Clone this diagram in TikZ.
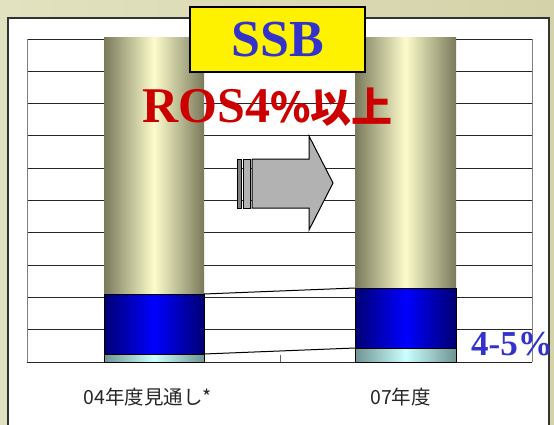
\documentclass[tikz,border=0pt]{standalone}
\usepackage{fontspec}
\setmainfont{Liberation Serif}
\newfontfamily\jpfont{Noto Sans CJK JP}
\usetikzlibrary{positioning}
\definecolor{bgleft}{HTML}{E3E2C0}
\definecolor{bgright}{HTML}{D3D2A8}
\definecolor{khakidark}{HTML}{7A7A5C}
\definecolor{khakilight}{HTML}{FCFCCB}
\definecolor{ssbblue}{HTML}{3333CC}
\definecolor{rosred}{HTML}{CC0000}
\definecolor{cyandark}{HTML}{6E9494}
\definecolor{cyanlight}{HTML}{CCFFFF}
\tikzstyle{grid line} = [draw=black!85, line width=0.9pt]
\tikzstyle{seg} = [draw=black, line width=1pt]
\tikzstyle{category} = [font={\jpfont\fontsize{19.5pt}{22pt}\selectfont}, text=black!85]
\tikzstyle{arrowpart} = [draw=black, line width=1pt]

\begin{document}
\begin{tikzpicture}[x=1pt, y=-1pt]
    \useasboundingbox (0,0) rectangle (554,425);
    \clip (0,0) rectangle (554,425);
    \shade[left color=bgleft, right color=bgright] (0,0) rectangle (554,425);
    \draw[fill=white, draw=black!80, line width=1.5pt] (8,18) rectangle (549,440);

    % plot frame
    \foreach \i in {0,...,10}
        \draw[grid line] (27,39+32.3*\i) -- (532,39+32.3*\i);
    \draw[draw=black!50, line width=0.8pt] (27,39) -- (27,362);
    \draw[draw=black!50, line width=0.8pt] (532,39) -- (532,362);
    \draw[draw=black!60, line width=0.8pt] (280,355) -- (280,362);

    % 04 bar
    \shade[left color=khakidark, right color=khakidark, middle color=khakilight] (104,38) rectangle (204,294);
    \shade[seg, left color=blue!45!black, right color=blue!45!black, middle color=blue] (104,294) rectangle (204,354);
    \shade[seg, left color=cyandark, right color=cyandark, middle color=cyanlight] (104,354) rectangle (204,362);
    \coordinate (a1) at (204,294);
    \coordinate (a2) at (204,354);

    % 07 bar
    \shade[left color=khakidark, right color=khakidark, middle color=khakilight] (355,38) rectangle (456,288);
    \shade[seg, left color=blue!45!black, right color=blue!45!black, middle color=blue] (355,288) rectangle (456,348);
    \shade[seg, left color=cyandark, right color=cyandark, middle color=cyanlight] (355,348) rectangle (456,362);
    \coordinate (b1) at (355,288);
    \coordinate (b2) at (355,348);

    \draw[seg] (a1) -- (b1);
    \draw[seg] (a2) -- (b2);

    % arrow
    \draw[arrowpart, fill=black!50] (237,159) rectangle (241,208);
    \draw[arrowpart, fill=black!30] (243,159) rectangle (250,208);
    \draw[arrowpart, fill=black!30] (252,159) -- (309,159) -- (309,136) -- (333,183)
        -- (309,230) -- (309,208) -- (252,208) -- cycle;

    \node (ssb) [rectangle, fill=yellow, draw=black, line width=1.5pt, minimum width=175pt, minimum height=65pt,
        text=ssbblue, font={\bfseries\fontsize{52pt}{52pt}\selectfont}] at (277.5,39.5) {SSB};
    \node (ros) [anchor=base west, inner sep=0pt, text=rosred] at (142,123)
        {\bfseries\fontsize{50pt}{50pt}\selectfont ROS4{\jpfont\fontsize{41pt}{41pt}\selectfont \%以上}};
    \node (share) [anchor=base west, inner sep=0pt, text=ssbblue, font={\bfseries\fontsize{35pt}{35pt}\selectfont}]
        at (471,355) {4-5\%};

    \node (cat04) [category] at (147.5,397) {04年度見通し*};
    \node (cat07) [category] at (400.5,397) {07年度};
\end{tikzpicture}
\end{document}
